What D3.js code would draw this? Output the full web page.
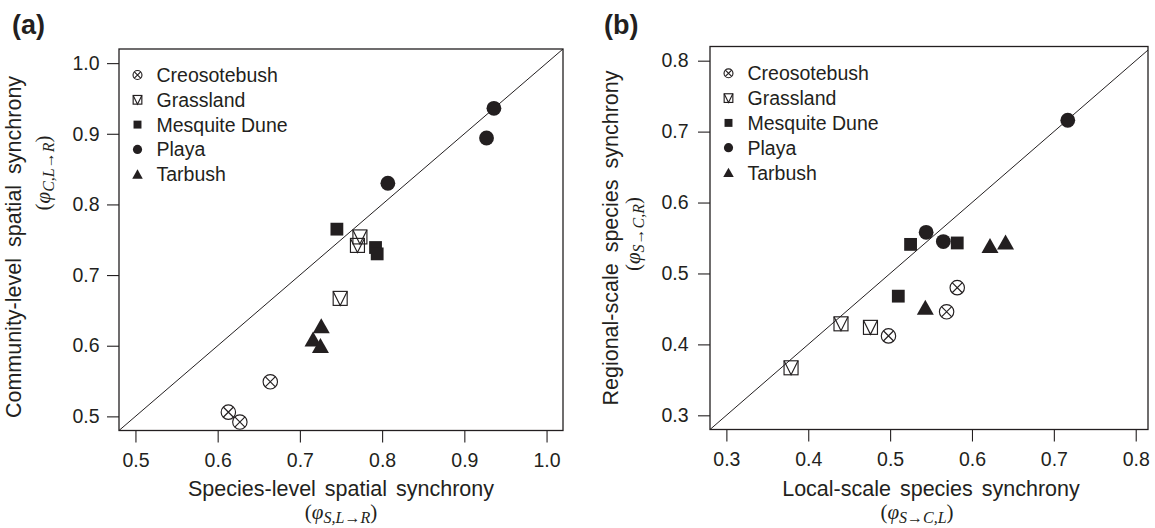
<!DOCTYPE html>
<html><head><meta charset="utf-8">
<script src="https://cdn.jsdelivr.net/npm/d3@7"></script>
<style>body{margin:0;background:#fff} svg{display:block}</style>
</head><body>
<svg id="chart" width="1155" height="528"></svg>
<script>
// ---------- DATA ----------
const siteNames = ["Creosotebush", "Grassland", "Mesquite Dune", "Playa", "Tarbush"];
// Panel (a): species-level (x) vs community-level (y) spatial synchrony
const aCreosotebush = [[0.664, 0.549], [0.613, 0.506], [0.627, 0.492]];
const aGrassland    = [[0.773, 0.754], [0.770, 0.742], [0.749, 0.667]];
const aMesquiteDune = [[0.745, 0.765], [0.792, 0.739], [0.794, 0.730]];
const aPlaya        = [[0.936, 0.936], [0.927, 0.894], [0.807, 0.830]];
const aTarbush      = [[0.726, 0.628], [0.716, 0.609], [0.725, 0.600]];
// Panel (b): local-scale (x) vs regional-scale (y) species synchrony
const bCreosotebush = [[0.498, 0.412], [0.569, 0.446], [0.582, 0.480]];
const bGrassland    = [[0.379, 0.367], [0.440, 0.429], [0.476, 0.424]];
const bMesquiteDune = [[0.525, 0.541], [0.582, 0.543], [0.510, 0.468]];
const bPlaya        = [[0.544, 0.558], [0.565, 0.545], [0.717, 0.716]];
const bTarbush      = [[0.622, 0.539], [0.641, 0.544], [0.543, 0.452]];
const aTicks = [0.5, 0.6, 0.7, 0.8, 0.9, 1.0];
const bTicks = [0.3, 0.4, 0.5, 0.6, 0.7, 0.8];
const aXLabel = "Species-level spatial synchrony";
const aYLabel = "Community-level spatial synchrony";
const bXLabel = "Local-scale species synchrony";
const bYLabel = "Regional-scale species synchrony";
const aXSub = "S,L\u2192R", aYSub = "C,L\u2192R";
const bXSub = "S\u2192C,L", bYSub = "S\u2192C,R";

// ---------- STYLE ----------
const INK = "#231f20";
const SANS = "'Liberation Sans', Arial, Helvetica, sans-serif";
const SERIF = "'Liberation Serif', 'DejaVu Serif', serif";
const svg = d3.select("#chart");

function drawSymbol(g, type, cx, cy, k) {
  const s = g.append("g").attr("transform", `translate(${cx},${cy}) scale(${k})`);
  const sw = 1.15 / k;
  if (type === 0) {
    s.append("circle").attr("r", 7.2).attr("fill", "none")
      .attr("stroke", INK).attr("stroke-width", sw);
    s.append("path").attr("d", "M-5.1,-5.1L5.1,5.1M-5.1,5.1L5.1,-5.1")
      .attr("stroke", INK).attr("stroke-width", sw).attr("fill", "none");
  } else if (type === 1) {
    s.append("rect").attr("x", -7).attr("y", -7).attr("width", 14).attr("height", 14)
      .attr("fill", "none").attr("stroke", INK).attr("stroke-width", sw);
    s.append("path").attr("d", "M-7,-7L0,7L7,-7")
      .attr("stroke", INK).attr("stroke-width", sw).attr("fill", "none");
  } else if (type === 2) {
    s.append("rect").attr("x", -6.4).attr("y", -6.4).attr("width", 12.8).attr("height", 12.8)
      .attr("fill", INK);
  } else if (type === 3) {
    s.append("circle").attr("r", 7.4).attr("fill", INK);
  } else {
    s.append("path").attr("d", "M0,-7.8L8.5,7.2L-8.5,7.2Z").attr("fill", INK);
  }
}

function mathSub(g, x, y, sub, rotate) {
  const t = g.append("text")
    .attr("transform", rotate ? `translate(${x},${y}) rotate(-90)` : `translate(${x},${y})`)
    .attr("text-anchor", "middle").attr("font-family", SERIF).attr("font-size", 21)
    .attr("fill", INK);
  t.append("tspan").text("(");
  t.append("tspan").attr("font-style", "italic").text("\u03C6");
  t.append("tspan").attr("font-style", "italic").attr("font-size", 16).attr("dy", 3.5).text(sub);
  t.append("tspan").attr("dy", -3.5).text(")");
}

function panel(cfg) {
  const g = svg.append("g");
  const x = d3.scaleLinear().domain(cfg.xDom).range([cfg.left, cfg.right]);
  const y = d3.scaleLinear().domain(cfg.yDom).range([cfg.bottom, cfg.top]);

  const clipId = "clip" + cfg.id;
  svg.append("clipPath").attr("id", clipId).append("rect")
    .attr("x", cfg.left).attr("y", cfg.top)
    .attr("width", cfg.right - cfg.left).attr("height", cfg.bottom - cfg.top);

  // 1:1 line
  const lo = Math.max(cfg.xDom[0], cfg.yDom[0]), hi = Math.min(cfg.xDom[1], cfg.yDom[1]);
  const oneToOne = [lo, hi];
  g.append("path").attr("clip-path", `url(#${clipId})`)
    .attr("d", d3.line().x(d => x(d)).y(d => y(d))(oneToOne))
    .attr("stroke", INK).attr("stroke-width", 1).attr("fill", "none");

  // axes
  const fmt = d3.format(".1f");
  const xa = g.append("g").attr("transform", `translate(0,${cfg.bottom})`)
    .call(d3.axisBottom(x).tickValues(cfg.ticks).tickFormat(fmt).tickSize(12).tickPadding(10));
  const ya = g.append("g").attr("transform", `translate(${cfg.left},0)`)
    .call(d3.axisLeft(y).tickValues(cfg.ticks).tickFormat(fmt).tickSize(12).tickPadding(cfg.ypad));
  [xa, ya].forEach(a => {
    a.select(".domain").remove();
    a.selectAll("line").attr("stroke", INK).attr("stroke-width", 1.1);
    a.selectAll("text").attr("font-family", SANS).attr("font-size", 19.5).attr("fill", INK);
  });
  xa.selectAll("text").attr("dy", null).attr("y", 36.5);

  // box
  g.append("rect").attr("x", cfg.left).attr("y", cfg.top)
    .attr("width", cfg.right - cfg.left).attr("height", cfg.bottom - cfg.top)
    .attr("fill", "none").attr("stroke", INK).attr("stroke-width", 1.3);

  // points
  cfg.series.forEach((pts, i) => {
    pts.forEach(p => drawSymbol(g, i, x(p[0]), y(p[1]), 1));
  });

  // legend
  siteNames.forEach((name, i) => {
    const cy = cfg.top + cfg.legTop + i * 24.8;
    drawSymbol(g, i, cfg.left + 18.5, cy, 0.62);
    g.append("text").attr("x", cfg.left + 37.5).attr("y", cy).attr("dy", "0.36em")
      .attr("font-family", SANS).attr("font-size", 19.5).attr("fill", INK).text(name);
  });

  // axis titles
  g.append("text").attr("x", cfg.xTitleX).attr("y", 496).attr("text-anchor", "middle")
    .attr("font-family", SANS).attr("font-size", 21.5).attr("word-spacing", 3)
    .attr("fill", INK).text(cfg.xLabel);
  mathSub(g, cfg.xSubX, 519, cfg.xSub, false);
  g.append("text").attr("transform", `translate(${cfg.yTitleX},${cfg.yTitleY}) rotate(-90)`)
    .attr("text-anchor", "middle").attr("font-family", SANS).attr("font-size", 21.5)
    .attr("word-spacing", 5).attr("fill", INK).text(cfg.yLabel);
  mathSub(g, cfg.ySubX, cfg.ySubY, cfg.ySub, true);

  // panel tag
  g.append("text").attr("x", cfg.tagX).attr("y", 34).attr("font-family", SANS)
    .attr("font-weight", "bold").attr("font-size", 27).attr("fill", INK).text(cfg.tag);
}

panel({
  id: "a", tag: "(a)", tagX: 12,
  xDom: [0.48, 1.02], yDom: [0.48, 1.02],
  left: 119, right: 563, top: 49, bottom: 430.5,
  ticks: aTicks, ypad: 7.5, legTop: 26,
  series: [aCreosotebush, aGrassland, aMesquiteDune, aPlaya, aTarbush],
  xLabel: aXLabel, yLabel: aYLabel, xSub: aXSub, ySub: aYSub,
  xTitleX: 341, xSubX: 341, yTitleX: 21, yTitleY: 247, ySubX: 50, ySubY: 173
});
panel({
  id: "b", tag: "(b)", tagX: 604,
  xDom: [0.28, 0.815], yDom: [0.28, 0.82],
  left: 710, right: 1148, top: 46.5, bottom: 429.5,
  ticks: bTicks, ypad: 9.5, legTop: 26.8,
  series: [bCreosotebush, bGrassland, bMesquiteDune, bPlaya, bTarbush],
  xLabel: bXLabel, yLabel: bYLabel, xSub: bXSub, ySub: bYSub,
  xTitleX: 931, xSubX: 917, yTitleX: 618, yTitleY: 238, ySubX: 640, ySubY: 234
});
</script>
</body></html>
